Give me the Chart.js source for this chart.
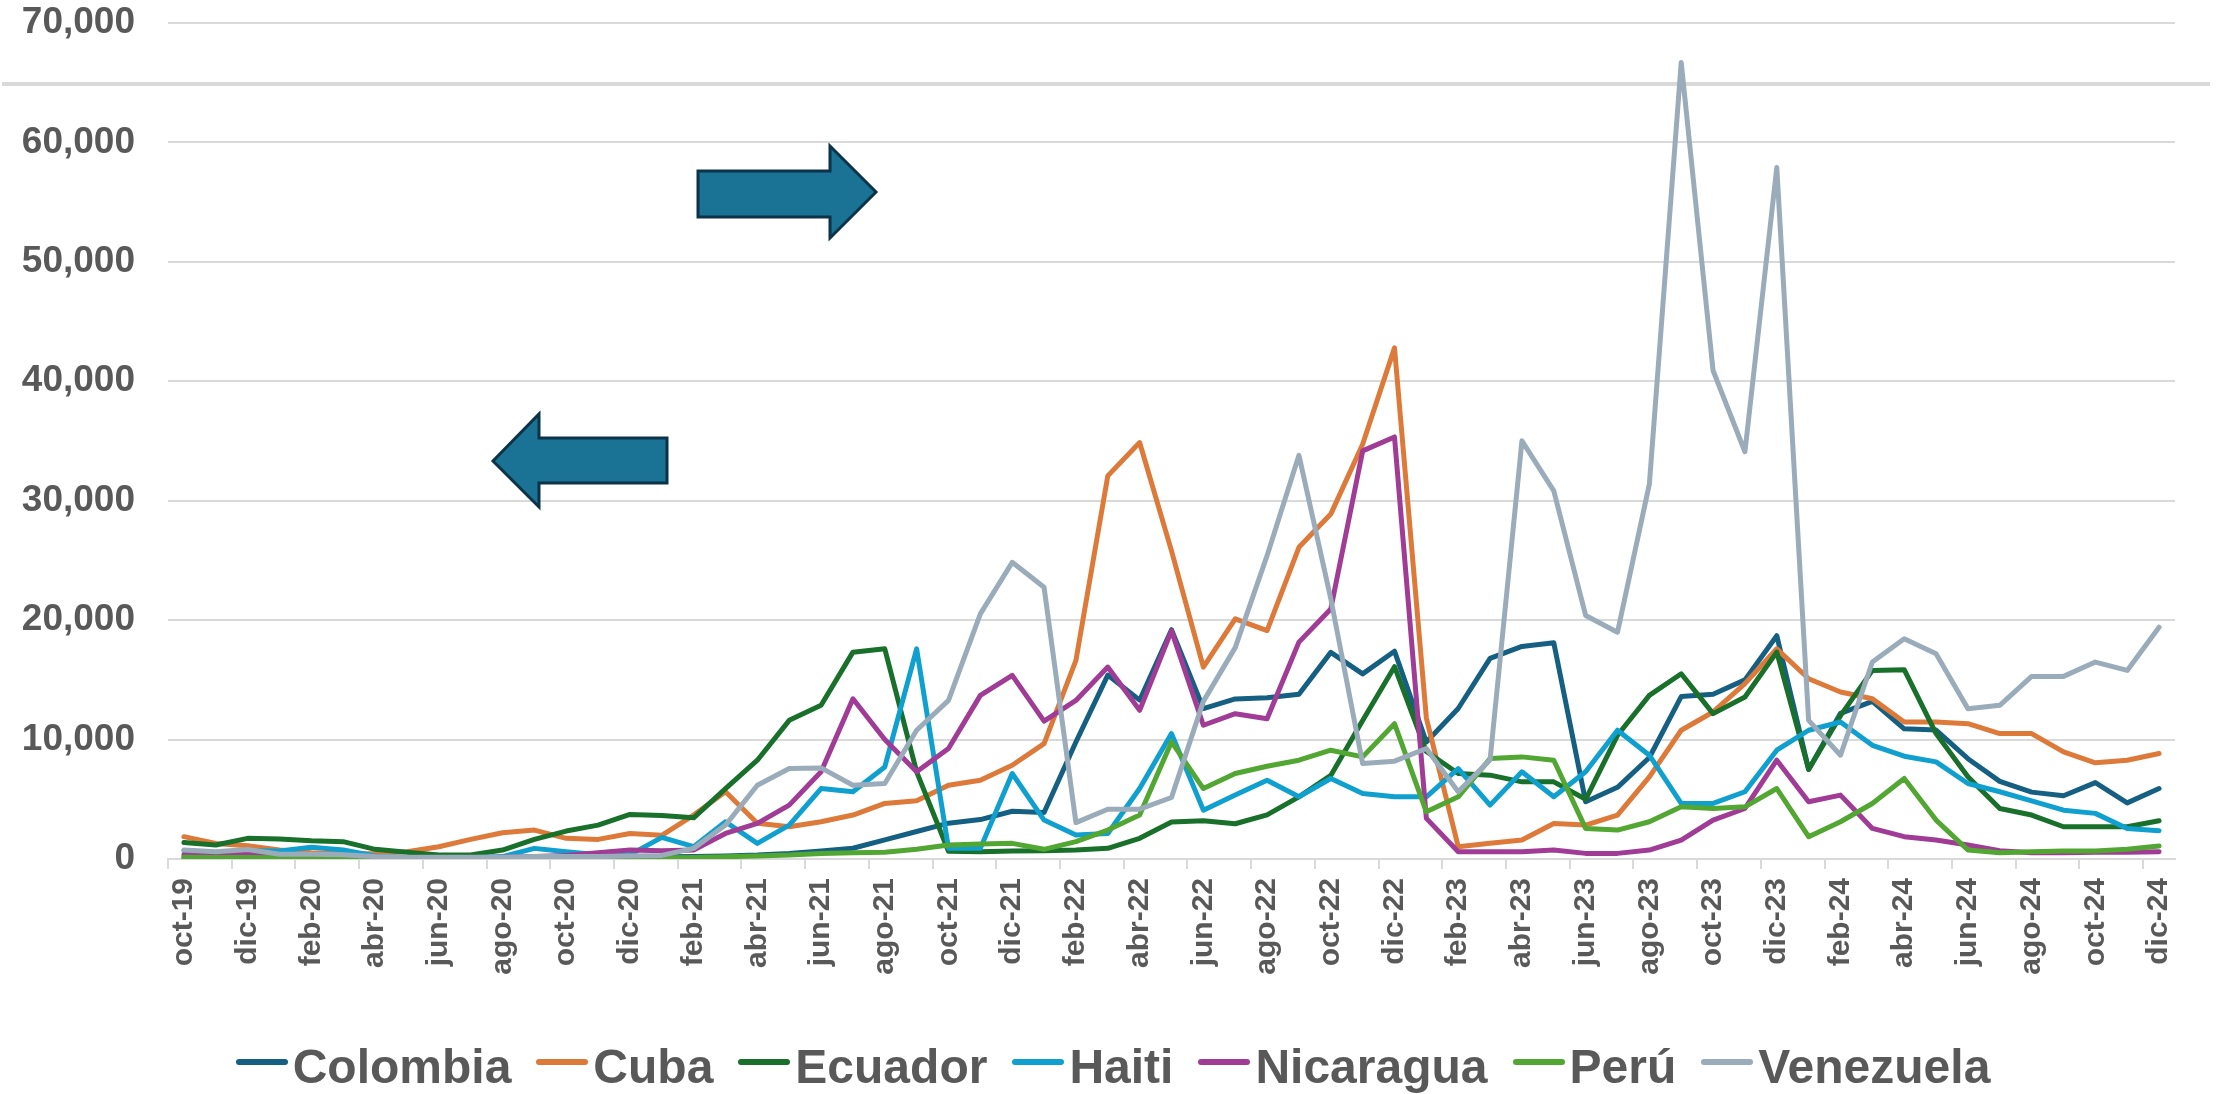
<!DOCTYPE html>
<html>
<head>
<meta charset="utf-8">
<script src="https://cdn.jsdelivr.net/npm/chart.js@4/dist/chart.umd.min.js"></script>
<style>
  html, body { margin: 0; padding: 0; background: #ffffff; }
  #wrap { position: relative; width: 2226px; height: 1094px; overflow: hidden; }
  #c { position: absolute; left: 0; top: 0; }
  #legend {
    position: absolute; left: 0; width: 2226px; top: 1043px; height: 48px;
    display: flex; justify-content: center; align-items: center;
    font-family: 'Liberation Sans', Arial, sans-serif; font-weight: bold;
    font-size: 48px; line-height: 48px; color: #595959; white-space: nowrap;
  }
  .item { display: flex; align-items: center; margin-right: 25px; }
  .item:last-child { margin-right: 0; }
  .swatch { display: inline-block; width: 52px; height: 6px; border-radius: 3px; margin-right: 5px; position: relative; top: -5px; }
</style>
</head>
<body>
<div id="wrap">
  <canvas id="c" width="2226" height="1094"></canvas>
  <div id="legend"></div>
</div>
<script>
// ---- Data ----
const months = ['oct-19','nov-19','dic-19','ene-20','feb-20','mar-20','abr-20','may-20','jun-20','jul-20','ago-20','sep-20','oct-20','nov-20','dic-20','ene-21','feb-21','mar-21','abr-21','may-21','jun-21','jul-21','ago-21','sep-21','oct-21','nov-21','dic-21','ene-22','feb-22','mar-22','abr-22','may-22','jun-22','jul-22','ago-22','sep-22','oct-22','nov-22','dic-22','ene-23','feb-23','mar-23','abr-23','may-23','jun-23','jul-23','ago-23','sep-23','oct-23','nov-23','dic-23','ene-24','feb-24','mar-24','abr-24','may-24','jun-24','jul-24','ago-24','sep-24','oct-24','nov-24','dic-24'];

const colombia = [150,140,160,130,120,100,60,50,50,60,80,100,120,140,160,180,200,250,330,470,670,900,1600,2300,3000,3300,4000,3900,9800,15400,13300,19200,12600,13400,13500,13800,17300,15500,17400,9800,12600,16800,17800,18100,4800,6000,8500,13600,13800,15000,18700,7500,12200,13200,10900,10800,8400,6500,5600,5300,6400,4700,5900];
const cuba = [1870,1300,1110,750,530,420,470,610,1030,1640,2200,2420,1730,1640,2140,1980,3680,5630,3000,2700,3120,3680,4650,4870,6180,6600,7850,9660,16630,32080,34870,25800,16070,20110,19130,26100,28880,34730,42800,11800,1030,1310,1590,2980,2840,3680,6880,10780,12310,14680,17600,15090,13980,13420,11470,11470,11330,10500,10500,8970,8050,8270,8830];
const ecuador = [1390,1170,1730,1670,1530,1450,810,560,330,330,750,1640,2340,2840,3730,3650,3450,5900,8270,11610,12870,17320,17600,7300,650,610,670,700,750,890,1730,3100,3200,2950,3700,5200,7000,11600,16100,9000,7160,7020,6460,6460,5000,10360,13700,15510,12170,13560,17320,7500,12000,15790,15850,10500,6880,4230,3680,2700,2700,2700,3200];
const haiti = [700,550,700,670,975,750,250,100,100,100,200,890,610,350,350,1810,1030,3120,1310,2840,5900,5630,7710,17600,900,890,7160,3260,2000,2140,5900,10500,4090,5350,6600,5210,6740,5490,5210,5210,7570,4510,7300,5210,7300,10780,8690,4650,4650,5630,9110,10780,11470,9520,8610,8130,6320,5630,4870,4090,3820,2560,2370];
const nicaragua = [360,360,420,300,200,200,150,100,100,100,150,200,300,530,750,700,750,2140,2980,4510,7300,13420,10000,7300,9250,13700,15370,11540,13280,16070,12450,19100,11200,12170,11750,18160,20940,34170,35340,3400,610,610,610,750,470,470,750,1590,3260,4230,8270,4790,5350,2560,1870,1590,1170,700,530,530,560,560,610];
const peru = [150,130,120,100,80,60,40,30,30,30,40,50,60,70,80,100,120,190,250,330,470,530,560,810,1170,1250,1310,810,1450,2420,3680,9800,5900,7160,7770,8270,9110,8550,11330,3950,5210,8410,8550,8270,2560,2420,3120,4370,4230,4370,5900,1870,3120,4650,6740,3260,750,530,610,670,670,810,1090];
const venezuela = [750,610,800,390,390,360,200,150,150,150,150,200,200,200,250,300,890,2840,6180,7575,7630,6180,6320,10780,13280,20530,24840,22750,3050,4170,4170,5150,13200,17700,25400,33800,21800,7990,8190,9250,5630,8300,35010,30830,20390,18990,31390,66700,40900,34100,57900,11610,8690,16490,18440,17180,12590,12870,15290,15290,16490,15790,19410];

const seriesNames = ['Colombia','Cuba','Ecuador','Haiti','Nicaragua','Perú','Venezuela'];
const seriesData = [colombia, cuba, ecuador, haiti, nicaragua, peru, venezuela];
const seriesColors = ['#156082','#DD7A3A','#18702A','#0FA0D0','#A03C96','#52A632','#9AABBA'];
const yTicks = [0,10000,20000,30000,40000,50000,60000,70000];

// ---- Chart ----
const FONT = "'Liberation Sans', Arial, sans-serif";
Chart.defaults.font.family = FONT;
Chart.defaults.color = '#595959';

const decor = {
  id: 'decor',
  beforeDatasetsDraw(chart) {
    const ctx = chart.ctx;
    ctx.save();
    ctx.strokeStyle = '#d9d9d9';
    ctx.lineWidth = 4;
    ctx.beginPath();
    ctx.moveTo(2, 84);
    ctx.lineTo(2210, 84);
    ctx.stroke();
    ctx.restore();
  },
  afterDatasetsDraw(chart) {
    const ctx = chart.ctx;
    ctx.save();
    ctx.fillStyle = '#1A7394';
    ctx.strokeStyle = '#0C3348';
    ctx.lineWidth = 3;
    ctx.lineJoin = 'miter';
    // right-pointing arrow
    ctx.beginPath();
    ctx.moveTo(698, 171);
    ctx.lineTo(830, 171);
    ctx.lineTo(830, 146);
    ctx.lineTo(876, 192);
    ctx.lineTo(830, 238);
    ctx.lineTo(830, 217);
    ctx.lineTo(698, 217);
    ctx.closePath();
    ctx.fill(); ctx.stroke();
    // left-pointing arrow
    ctx.beginPath();
    ctx.moveTo(667, 438);
    ctx.lineTo(539, 438);
    ctx.lineTo(539, 414);
    ctx.lineTo(493, 461);
    ctx.lineTo(539, 507);
    ctx.lineTo(539, 483);
    ctx.lineTo(667, 483);
    ctx.closePath();
    ctx.fill(); ctx.stroke();
    ctx.restore();
  }
};

new Chart(document.getElementById('c').getContext('2d'), {
  type: 'line',
  data: {
    labels: months,
    datasets: seriesNames.map((name, i) => ({
      label: name,
      data: seriesData[i],
      borderColor: seriesColors[i],
      backgroundColor: seriesColors[i],
      borderWidth: 5,
      pointRadius: 0,
      pointHoverRadius: 0,
      tension: 0,
      fill: false,
      borderJoinStyle: 'round',
      borderCapStyle: 'round',
      order: seriesNames.length - 1 - i
    }))
  },
  options: {
    responsive: false,
    animation: false,
    devicePixelRatio: 1,
    layout: { padding: { left: 0, right: 51, top: 23, bottom: 0 } },
    plugins: { legend: { display: false }, tooltip: { enabled: false } },
    scales: {
      x: {
        type: 'category',
        offset: true,
        grid: {
          offset: true,
          drawOnChartArea: false,
          drawTicks: true,
          tickLength: 10,
          lineWidth: 2,
          color: '#d9d9d9',
          tickColor: (c) => (c.index % 2 === 0 ? '#d9d9d9' : 'rgba(0,0,0,0)')
        },
        border: { display: true, color: '#d9d9d9', width: 2 },
        ticks: {
          autoSkip: false,
          minRotation: 90,
          maxRotation: 90,
          padding: 9,
          color: '#595959',
          font: { size: 30, weight: 'bold', family: FONT },
          callback: function (val, idx) { return idx % 2 === 0 ? this.getLabelForValue(val) : ''; }
        },
        afterFit: (s) => { s.height = 235; }
      },
      y: {
        min: 0,
        max: 70000,
        grid: { color: '#d9d9d9', lineWidth: 2, drawTicks: true, tickLength: 33, tickColor: 'rgba(0,0,0,0)' },
        border: { display: false },
        afterBuildTicks: (s) => { s.ticks = yTicks.map(v => ({ value: v })); },
        ticks: {
          padding: 0,
          color: '#595959',
          font: { size: 37, weight: 'bold', family: FONT },
          callback: (v) => Number(v).toLocaleString('en-US')
        },
        afterFit: (s) => { s.width = 168; }
      }
    }
  },
  plugins: [decor]
});

// ---- HTML legend ----
const legend = document.getElementById('legend');
seriesNames.forEach((name, i) => {
  const item = document.createElement('div');
  item.className = 'item';
  const sw = document.createElement('span');
  sw.className = 'swatch';
  sw.style.background = seriesColors[i];
  const tx = document.createElement('span');
  tx.textContent = name;
  item.appendChild(sw);
  item.appendChild(tx);
  legend.appendChild(item);
});
</script>
</body>
</html>
